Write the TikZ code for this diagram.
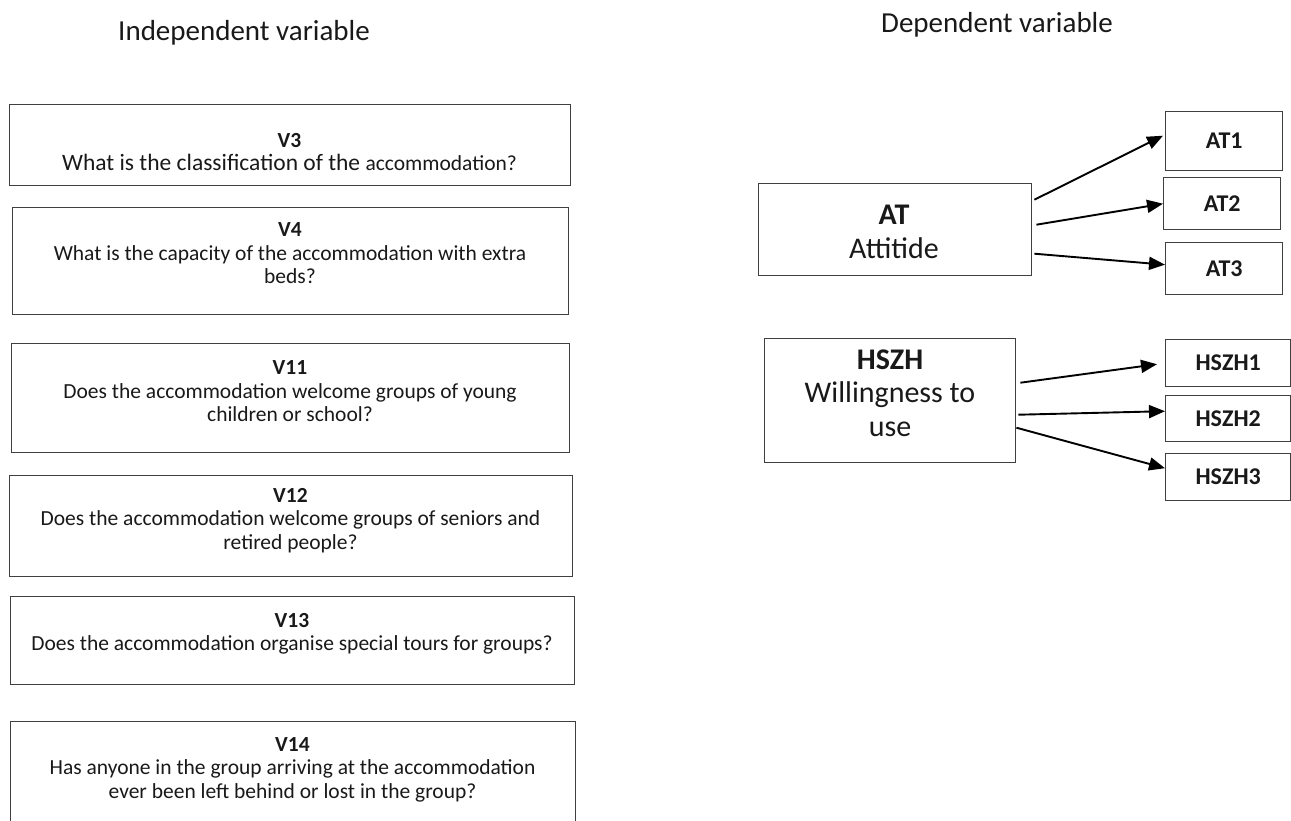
\documentclass[tikz,border=0pt]{standalone}
\usepackage{fontspec}
\setmainfont{Carlito}
\usetikzlibrary{arrows.meta}
\begin{document}
\begin{tikzpicture}[x=1pt,y=-1pt,
  vbox/.style={draw=black!75, line width=1.4pt, inner sep=0pt, anchor=north west},
  vtext/.style={align=center, font=\fontsize{21.5}{23.5}\selectfont, text=black!90},
  dbox/.style={draw=black!75, line width=1.4pt, inner sep=0pt, anchor=north west},
  dtext/.style={align=center, font=\fontsize{30}{33.5}\selectfont, text=black!90},
  sbox/.style={draw=black!75, line width=1.4pt, inner sep=0pt, anchor=north west},
  stext/.style={font=\fontsize{24}{26}\selectfont\bfseries, text=black!90},
  title/.style={font=\fontsize{29}{32}\selectfont, text=black!90},
  arr/.style={-{Triangle[length=16pt,width=13pt]}, line width=1.9pt, black}
]
\useasboundingbox (0,0) rectangle (1291,820);
\clip (0,0) rectangle (1291,820);

\node[title] (tind) at (244,33) {Independent variable};
\node[title] (tdep) at (997,25) {Dependent variable};

% left boxes
\node[vbox, minimum width=561pt, minimum height=81pt] (v3) at (9,104) {};
\node[vtext] (v3t) at (289.5,152) {\textbf{V3}\\{\fontsize{23.5}{23.5}\selectfont What is the classification of the }accommodation?};

\node[vbox, minimum width=556pt, minimum height=107pt] (v4) at (12,207) {};
\node[vtext] (v4t) at (290,253.5) {\textbf{V4}\\What is the capacity of the accommodation with extra\\beds?};

\node[vbox, minimum width=558pt, minimum height=109pt] (v11) at (11,343) {};
\node[vtext] (v11t) at (290,391.5) {\textbf{V11}\\Does the accommodation welcome groups of young\\children or school?};

\node[vbox, minimum width=563pt, minimum height=101pt] (v12) at (9,475) {};
\node[vtext] (v12t) at (290.5,520.5) {\textbf{V12}\\Does the accommodation welcome groups of seniors and\\retired people?};

\node[vbox, minimum width=564pt, minimum height=88pt] (v13) at (10,596) {};
\node[vtext] (v13t) at (292,634) {\textbf{V13}\\Does the accommodation organise special tours for groups?};

\node[vbox, minimum width=565pt, minimum height=130pt] (v14) at (10,721) {};
\node[vtext] (v14t) at (292.5,769.5) {\textbf{V14}\\Has anyone in the group arriving at the accommodation\\ever been left behind or lost in the group?};

% right side
\node[dbox, minimum width=273pt, minimum height=92pt] (at) at (758,183) {};
\node[dtext] (att) at (894,232) {\textbf{AT}\\Attitide};

\node[sbox, minimum width=117pt, minimum height=59pt] (at1) at (1165,111) {};
\node[stext] (at1t) at (at1.center) {AT1};
\node[sbox, minimum width=117pt, minimum height=52pt] (at2) at (1163,177) {};
\node[stext] (at2t) at (at2.center) {AT2};
\node[sbox, minimum width=117pt, minimum height=52pt] (at3) at (1165,242) {};
\node[stext] (at3t) at (at3.center) {AT3};

\node[dbox, minimum width=251pt, minimum height=124pt] (hs) at (764,338) {};
\node[dtext] (hst) at (890,393) {\textbf{HSZH}\\Willingness to\\use};

\node[sbox, minimum width=125pt, minimum height=47pt] (h1) at (1165,339) {};
\node[stext] (h1t) at (h1.center) {HSZH1};
\node[sbox, minimum width=125pt, minimum height=46pt] (h2) at (1165,395) {};
\node[stext] (h2t) at (h2.center) {HSZH2};
\node[sbox, minimum width=125pt, minimum height=47pt] (h3) at (1165,453) {};
\node[stext] (h3t) at (h3.center) {HSZH3};

\draw[arr] ([shift={(2,-30)}]at.east) -- ([shift={(-2,-5.5)}]at1.west);
\draw[arr] ([shift={(4,-5)}]at.east) -- ([shift={(0,0)}]at2.west);
\draw[arr] ([shift={(2,24)}]at.east) -- ([shift={(0,-4)}]at3.west);

\draw[arr] ([shift={(4,-18)}]hs.east) -- ([shift={(-8,1)}]h1.west);
\draw[arr] ([shift={(2,14)}]hs.east) -- ([shift={(0,-7.5)}]h2.west);
\draw[arr] ([shift={(0,27)}]hs.east) -- ([shift={(0,-9)}]h3.west);
\end{tikzpicture}
\end{document}
